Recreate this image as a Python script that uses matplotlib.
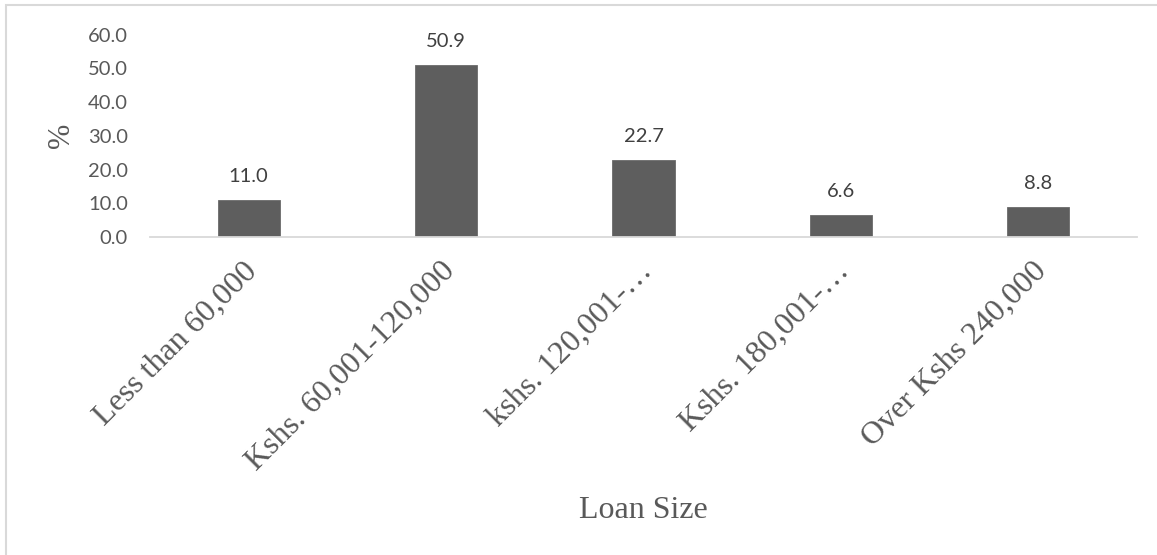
import matplotlib
matplotlib.use('Agg')
import matplotlib.pyplot as plt
import matplotlib.transforms as mtransforms
from matplotlib.patches import Rectangle

# data
categories = ['Less than 60,000', 'Kshs. 60,001-120,000', 'kshs. 120,001-\u2026',
              'Kshs. 180,001-\u2026', 'Over Kshs 240,000']
values = [11.0, 50.9, 22.7, 6.6, 8.8]
yticks = [0, 10, 20, 30, 40, 50, 60]

W, H = 1157, 555
fig = plt.figure(figsize=(W / 100, H / 100), dpi=100, facecolor='white')
ax = fig.add_axes([150 / W, 1 - 237 / H, (1137 - 150) / W, (237 - 34.5) / H])

x = list(range(len(categories)))
ax.bar(x, values, width=0.315, color='#5e5e5e', edgecolor='#6a6a6a', linewidth=0.6, zorder=2)
ax.set_xlim(-0.5, len(categories) - 0.5)
ax.set_ylim(0, 60)

for xi, v in zip(x, values):
    ax.annotate(f'{v:.1f}', (xi, v), xytext=(0, 13), textcoords='offset points',
                ha='center', va='baseline', fontsize=14.5, family='Lato', color='#404040')

ax.set_yticks(yticks)
ax.set_yticklabels([f'{t:.1f}' for t in yticks], family='Lato', fontsize=14.5, color='#595959')
ax.set_xticks(x)
ax.set_xticklabels(categories, rotation=45, ha='right', va='top', rotation_mode='anchor',
                   family='Liberation Serif', fontsize=23, color='#595959')
ax.tick_params(axis='y', length=0, pad=16)
ax.tick_params(axis='x', length=0, pad=14)

# nudge rotated category labels a little to the left
shift = mtransforms.ScaledTranslation(-6 / 100, 0, fig.dpi_scale_trans)
for lbl in ax.get_xticklabels():
    lbl.set_transform(lbl.get_transform() + shift)

for side in ['left', 'right', 'top']:
    ax.spines[side].set_visible(False)
ax.spines['bottom'].set_color('#d9d9d9')
ax.spines['bottom'].set_linewidth(1.3)

fig.text(62 / W, 1 - 135 / H, '%', rotation=90, ha='center', va='center',
         family='Liberation Serif', fontsize=22, color='#595959')

fig.text(643 / W, 1 - 510 / H, 'Loan Size', ha='center', va='center',
         family='Liberation Serif', fontsize=23, color='#595959')

# outer chart border (cropped at right and bottom)
fig.patches.append(Rectangle((6 / W, -0.1), 1.2, 1 - 5 / H + 0.1, transform=fig.transFigure,
                             fill=False, edgecolor='#d9d9d9', linewidth=1.5))

fig.savefig('out.png', dpi=100, facecolor='white')
